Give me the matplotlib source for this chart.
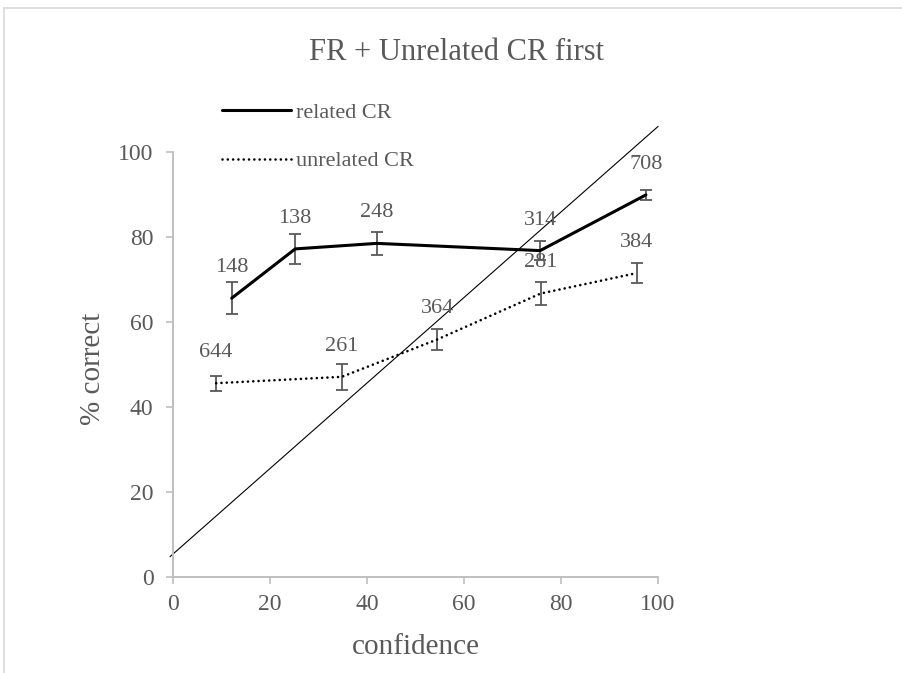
import matplotlib
matplotlib.use("Agg")
import matplotlib.pyplot as plt
from matplotlib.lines import Line2D

plt.rcParams['font.family'] = ['Liberation Serif', 'DejaVu Serif']

# values
x_rel = [12.1, 25.2, 42.0, 75.7, 97.5]
y_rel = [65.6, 77.2, 78.5, 76.8, 89.9]
err_rel = [3.7, 3.5, 2.7, 2.3, 1.2]
n_rel = [148, 138, 248, 314, 708]

x_unrel = [8.9, 34.8, 54.5, 75.8, 95.6]
y_unrel = [45.6, 47.1, 55.9, 66.7, 71.5]
err_unrel = [1.8, 3.1, 2.4, 2.8, 2.4]
n_unrel = [644, 261, 364, 281, 384]

# reference diagonal
diag_x = [-0.6, 100]
diag_y = [4.8, 106]

xticks = [0, 20, 40, 60, 80, 100]
yticks = [0, 20, 40, 60, 80, 100]

text_gray = '#595959'
axis_gray = '#BFBFBF'

W, H = 902, 673
fig = plt.figure(figsize=(W / 100, H / 100), dpi=100)
ax = fig.add_axes([173 / W, 1 - 577 / H, (658 - 173) / W, (577 - 152) / H])

# chart area border (top and left edges visible)
fig.add_artist(Line2D([4 / W, 1], [1 - 8 / H, 1 - 8 / H], color='#D9D9D9', lw=1.2))
fig.add_artist(Line2D([4 / W, 4 / W], [0, 1 - 8 / H], color='#D9D9D9', lw=1.2))

ax.plot(diag_x, diag_y, color='black', lw=0.8, clip_on=False, zorder=2)

ax.errorbar(x_rel, y_rel, yerr=err_rel, fmt='none', ecolor=text_gray,
            elinewidth=1.3, capsize=4.2, capthick=1.3, zorder=3, clip_on=False)
ax.errorbar(x_unrel, y_unrel, yerr=err_unrel, fmt='none', ecolor=text_gray,
            elinewidth=1.3, capsize=4.2, capthick=1.3, zorder=3, clip_on=False)

rel_line, = ax.plot(x_rel, y_rel, color='black', lw=2.2, label='related CR',
                    solid_capstyle='round', zorder=4, clip_on=False)
unrel_line, = ax.plot(x_unrel, y_unrel, color='black', lw=1.9, label='unrelated CR',
                      dashes=(0.01, 2.0), dash_capstyle='round', zorder=4, clip_on=False)

for xs, ys, ns in [(x_rel, y_rel, n_rel), (x_unrel, y_unrel, n_unrel)]:
    for x, y, n in zip(xs, ys, ns):
        ax.annotate(str(n), (x, y), xytext=(0, 22), textcoords='offset points',
                    ha='center', va='center', fontsize=16, color=text_gray,
                    annotation_clip=False, zorder=5)

ax.set_xlim(0, 100)
ax.set_ylim(0, 100)
ax.set_xticks(xticks)
ax.set_yticks(yticks)
ax.tick_params(axis='both', which='major', direction='out', length=5, width=1.2,
               color=axis_gray, labelcolor=text_gray, labelsize=17)
ax.tick_params(axis='y', pad=9)
ax.tick_params(axis='x', pad=7)

for side in ['top', 'right']:
    ax.spines[side].set_visible(False)
for side in ['left', 'bottom']:
    ax.spines[side].set_color(axis_gray)
    ax.spines[side].set_linewidth(1.4)

ax.set_xlabel('confidence', fontsize=21, color=text_gray)
ax.set_ylabel('% correct', fontsize=21, color=text_gray)
ax.xaxis.set_label_coords(0.5, (577 - 647) / 425)
ax.yaxis.set_label_coords((93 - 173) / 485, 0.49)
ax.xaxis.label.set_va('center')
ax.yaxis.label.set_va('center')

fig.text(457 / W, 1 - 52 / H, 'FR + Unrelated CR first', ha='center', va='center',
         fontsize=22, color=text_gray)

leg = ax.legend(handles=[rel_line, unrel_line], loc='upper left',
                bbox_to_anchor=(222 / W, 1 - 102 / H), bbox_transform=fig.transFigure,
                frameon=False, fontsize=16, handlelength=3.1, handletextpad=0.25,
                labelspacing=1.27, borderpad=0, borderaxespad=0)
for t in leg.get_texts():
    t.set_color(text_gray)

fig.savefig('out.png', dpi=100)
